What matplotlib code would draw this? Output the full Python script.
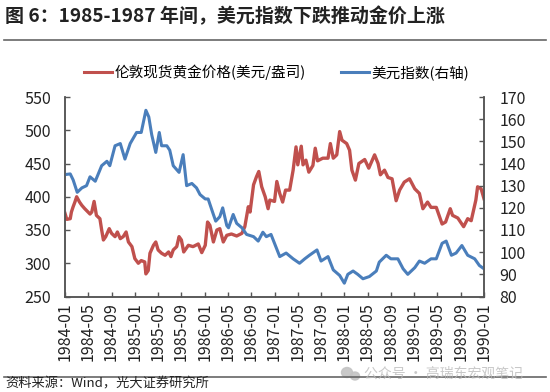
import matplotlib
matplotlib.use("Agg")
import matplotlib.pyplot as plt
from matplotlib.lines import Line2D
from matplotlib.patches import Ellipse

plt.rcParams['font.family'] = ['Noto Sans CJK SC', 'DejaVu Sans']

# months since 1984-01
gold_m = [0, .3, .9, 1.1, 1.4, 1.7, 2.0, 2.5, 2.9, 3.4, 4.3, 4.6, 5.0, 5.4, 6.0, 6.3, 6.6, 7.0, 7.6, 8.0,
          8.6, 9.0, 9.5, 10.0, 10.5, 10.9, 11.5, 12.0, 12.6, 13.1, 13.7, 13.9, 14.3, 14.6, 15.2, 15.6, 16.0, 16.6, 17.2, 17.8,
          18.2, 18.6, 19.2, 19.6, 20.0, 20.4, 21.2, 22.0, 22.9, 23.5, 24.1, 24.5, 24.9, 25.5, 26.1, 26.6, 27.2, 27.8, 28.6, 29.5,
          30.4, 30.9, 31.5, 31.8, 32.4, 32.9, 33.3, 33.8, 34.4, 34.9, 35.2,
          36.0, 36.4, 36.9, 37.4, 37.9, 38.6, 39.2, 39.7, 40.0, 40.6, 40.9, 41.4, 41.9, 42.6, 43.0, 43.4, 44.3, 45.2, 45.6, 46.1,
          46.7, 47.2, 47.6, 48.4, 48.9, 49.3, 49.9, 50.5, 51.5, 52.2, 53.2, 53.8, 54.2, 54.9, 55.5, 56.2, 56.9, 57.5, 58.3, 59.2,
          60.1, 60.9, 61.5, 62.3, 62.9, 63.8, 64.8, 65.4, 66.2, 66.6, 67.5, 68.5, 69.2, 69.8, 70.6, 70.9, 71.5, 72.0]
gold = [375, 366, 367, 377, 385, 392, 400, 392, 387, 382, 374, 377, 393, 372, 367, 350, 335, 340, 352, 345,
        340, 347, 337, 340, 347, 332, 325, 307, 300, 304, 302, 284, 289, 315, 327, 332, 320, 315, 312, 317,
        310, 320, 325, 340, 335, 317, 327, 325, 329, 316, 327, 362, 357, 332, 350, 352, 332, 342, 344, 341,
        345, 355, 385, 377, 418, 430, 438, 415, 400, 382, 395,
        393, 423, 405, 392, 410, 410, 440, 475, 448, 476, 448, 455, 437, 447, 473, 454, 458, 458, 480, 458,
        463, 498, 485, 480, 470, 440, 425, 450, 456, 443, 463, 450, 433, 440, 429, 427, 394, 410, 422, 427,
        412, 405, 382, 392, 384, 384, 359, 362, 382, 372, 368, 355, 367, 364, 395, 415, 412, 397]

usd_m = [0, .9, 1.4, 2.1, 2.9, 3.7, 4.3, 5.2, 6.3, 7.2, 7.7, 8.6, 9.5, 10.3, 11.2, 12.3, 13.1, 13.9, 14.4, 14.9,
         15.6, 16.2, 16.6, 17.5, 18.0, 18.6, 19.6, 20.3, 20.9, 21.8, 22.6, 23.2, 24.1, 24.6, 25.5, 25.9, 26.6, 27.1, 27.8, 28.1,
         28.9, 29.5, 30.4, 31.2, 32.4, 33.2, 34.0, 34.6, 35.4,
         36.0, 36.9, 38.0, 39.2, 40.3, 41.2, 42.0, 43.3, 44.0, 45.2, 46.1, 47.2, 48.0, 48.6, 49.5, 50.3, 51.2, 52.3, 53.5, 54.0,
         55.2, 56.0, 57.2, 58.1, 58.9, 60.1, 60.9, 61.8, 62.9, 63.8, 64.8, 65.5, 66.4, 67.2, 68.2, 69.2, 70.4, 71.2, 72.0]
usd = [135, 135.3, 132.6, 127, 129, 130, 134, 132, 139, 141, 139, 148, 149, 142, 149, 154, 154, 164, 161, 153,
       145, 154, 148, 148, 146, 139, 136, 144, 130, 131, 129, 126, 124, 124, 117, 114, 116, 120, 112, 111,
       117, 113, 111, 108, 107, 105, 109, 107, 108,
       104, 98, 99.6, 97, 95, 97, 98.6, 101, 96, 98, 92, 89.5, 86, 90, 91.5, 90, 88, 89, 91.5, 95.5,
       98.6, 97, 97, 92.5, 90, 93, 96, 95, 97, 97, 104, 105, 98.6, 99.6, 103, 98.6, 97, 94, 92.5]

tick_m = list(range(0, 73, 4))
tick_labels = ['1984-01', '1984-05', '1984-09', '1985-01', '1985-05', '1985-09', '1986-01', '1986-05', '1986-09',
               '1987-01', '1987-05', '1987-09', '1988-01', '1988-05', '1988-09', '1989-01', '1989-05', '1989-09', '1990-01']

RED = '#c0504d'
BLUE = '#4a7ebb'
GREY = '#555555'
W, H = 550, 392

fig = plt.figure(figsize=(5.5, 3.92), dpi=100)
ax = fig.add_axes([65 / W, 1 - 296.5 / H, 419 / W, 199.5 / H])
ax2 = ax.twinx()

ax.plot(gold_m, gold, color=RED, lw=2.4, solid_joinstyle='round')
ax2.plot(usd_m, usd, color=BLUE, lw=2.2, solid_joinstyle='round')

ax.set_xlim(0, 72)
ax.set_ylim(250, 550)
ax2.set_ylim(80, 170)
ax.set_yticks(range(250, 551, 50))
ax2.set_yticks(range(80, 171, 10))
ax.set_xticks(tick_m)
ax.set_xticklabels(tick_labels, rotation=90, color='#222222')

for a in (ax, ax2):
    a.spines['top'].set_visible(False)
    for s in a.spines.values():
        s.set_color(GREY)
        s.set_linewidth(1.1)
    a.tick_params(axis='both', direction='in', length=3.5, width=1, color=GREY, labelsize=11.5, labelcolor='#222222')
ax.tick_params(axis='x', labelsize=11.5, pad=4)
ax.tick_params(axis='y', pad=10)
ax2.tick_params(axis='y', pad=11)

# legend
handles = [Line2D([], [], color=RED, lw=2.2), Line2D([], [], color=BLUE, lw=2.2)]
fig.legend(handles, ['伦敦现货黄金价格(美元/盎司)', '美元指数(右轴)'], ncol=2, frameon=False, fontsize=10.5,
           loc='center', bbox_to_anchor=(277 / W, 1 - 72 / H), handlelength=1.9, handletextpad=0.2,
           columnspacing=2.4)

# header and footer
fig.text(5 / W, 1 - 16 / H, '图 6：1985-1987 年间，美元指数下跌推动金价上涨', fontsize=13.7, fontweight='bold',
         color='#222222', va='center')
fig.add_artist(Line2D([4 / W, 546 / W], [1 - 39.5 / H] * 2, color='#666666', lw=1.2))
fig.add_artist(Line2D([4 / W, 546 / W], [1 - 377 / H] * 2, color='#666666', lw=1.2))
fig.text(5 / W, 1 - 384 / H, '资料来源：Wind，光大证券研究所', fontsize=9.5, color='#222222', va='center')

# watermark
fig.text(364 / W, 1 - 374 / H, '公众号 · 高瑞东宏观笔记', fontsize=10, color='#bbbbbb', alpha=0.8, va='center')
fig.add_artist(Ellipse((347 / W, 1 - 372.5 / H), 11 / W, 10 / H, color='#c4c4c4', alpha=0.9))
fig.add_artist(Ellipse((355 / W, 1 - 376 / H), 9 / W, 8 / H, color='#c4c4c4', alpha=0.9))

fig.savefig('out.png', dpi=100)
